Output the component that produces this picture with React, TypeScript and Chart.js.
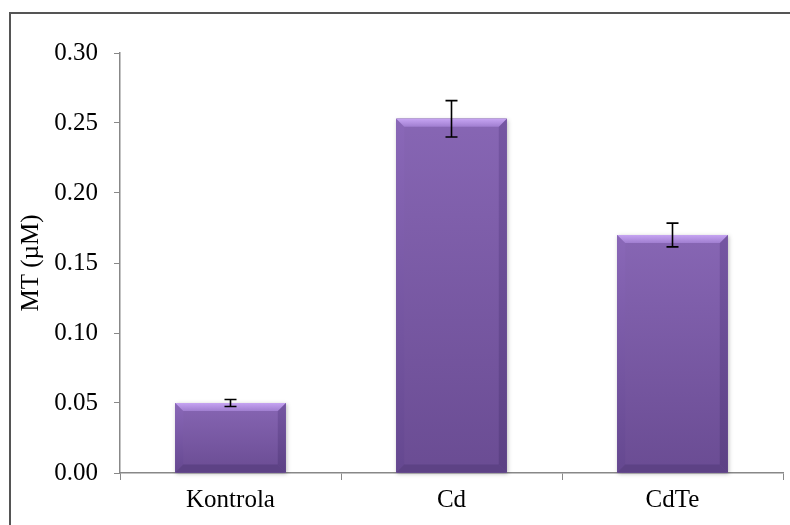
import React, { useEffect, useRef } from "react";
import { Chart, registerables } from "chart.js";

Chart.register(...registerables);

// MT concentration per treatment group
const categories = ["Kontrola", "Cd", "CdTe"];
const mtValues = [0.05, 0.253, 0.17];
const mtErrors = [0.0025, 0.013, 0.0085];
const yTickValues = [0, 0.05, 0.1, 0.15, 0.2, 0.25, 0.3];

const FONT = "'Liberation Serif', 'Times New Roman', serif";
const AXIS_GRAY = "#888888";

// Beveled, shaded face drawn on top of each bar element
const bevelPlugin = {
  id: "bevel",
  afterDatasetDraw(chart: any, args: any) {
    const meta = chart.getDatasetMeta(args.index);
    if (meta.type !== "bar") return;
    const ctx = chart.ctx as CanvasRenderingContext2D;
    meta.data.forEach((bar: any) => {
      const { x, y, base, width } = bar.getProps(["x", "y", "base", "width"], true);
      const l = x - width / 2;
      const r = x + width / 2;
      const t = Math.min(y, base);
      const b = Math.max(y, base);
      const s = Math.min(8, (b - t) / 2);
      ctx.save();

      // soft shadow
      ctx.shadowColor = "rgba(0,0,0,0.25)";
      ctx.shadowBlur = 4;
      ctx.shadowOffsetX = 1;
      ctx.shadowOffsetY = 1;
      ctx.fillStyle = "#7a5ba6";
      ctx.fillRect(l, t, r - l, b - t);
      ctx.shadowColor = "transparent";

      // body
      const body = ctx.createLinearGradient(0, t, 0, b);
      body.addColorStop(0, "#8766b4");
      body.addColorStop(1, "#6a4c93");
      ctx.fillStyle = body;
      ctx.fillRect(l, t, r - l, b - t);

      const poly = (pts: number[][], fill: any) => {
        ctx.beginPath();
        ctx.moveTo(pts[0][0], pts[0][1]);
        for (let i = 1; i < pts.length; i++) ctx.lineTo(pts[i][0], pts[i][1]);
        ctx.closePath();
        ctx.fillStyle = fill;
        ctx.fill();
      };

      // left and right edges
      const leftG = ctx.createLinearGradient(0, t, 0, b);
      leftG.addColorStop(0, "#8a68b8");
      leftG.addColorStop(1, "#654890");
      poly([[l, t], [l + s, t + s], [l + s, b - s], [l, b]], leftG);
      const rightG = ctx.createLinearGradient(0, t, 0, b);
      rightG.addColorStop(0, "#7556a2");
      rightG.addColorStop(1, "#5c4184");
      poly([[r, t], [r - s, t + s], [r - s, b - s], [r, b]], rightG);

      // bottom edge
      poly([[l, b], [l + s, b - s], [r - s, b - s], [r, b]], "#5d4285");

      // top highlight
      const topG = ctx.createLinearGradient(0, t, 0, t + s);
      topG.addColorStop(0, "#c6a4f2");
      topG.addColorStop(1, "#a07ed0");
      poly([[l, t], [r, t], [r - s, t + s], [l + s, t + s]], topG);

      ctx.restore();
    });
  },
};

// Error bars from the value/error arrays through the y scale
const errorBarPlugin = {
  id: "errorBars",
  afterDatasetsDraw(chart: any) {
    const meta = chart.getDatasetMeta(0);
    const yScale = chart.scales.y;
    const ctx = chart.ctx as CanvasRenderingContext2D;
    ctx.save();
    ctx.strokeStyle = "#000000";
    ctx.lineWidth = 1.6;
    meta.data.forEach((bar: any, i: number) => {
      const x = bar.x;
      const hi = yScale.getPixelForValue(mtValues[i] + mtErrors[i]);
      const lo = yScale.getPixelForValue(mtValues[i] - mtErrors[i]);
      const cap = 6;
      ctx.beginPath();
      ctx.moveTo(x, hi);
      ctx.lineTo(x, lo);
      ctx.moveTo(x - cap, hi);
      ctx.lineTo(x + cap, hi);
      ctx.moveTo(x - cap, lo);
      ctx.lineTo(x + cap, lo);
      ctx.stroke();
    });
    ctx.restore();
  },
};

export default function App() {
  const canvasRef = useRef<HTMLCanvasElement | null>(null);

  useEffect(() => {
    if (!canvasRef.current) return;
    const chart = new Chart(canvasRef.current, {
      type: "bar",
      data: {
        labels: categories,
        datasets: [
          {
            label: "MT (µM)",
            data: mtValues,
            backgroundColor: "#7a5ba6",
            borderWidth: 0,
            categoryPercentage: 1,
            barPercentage: 0.5,
          },
        ],
      },
      plugins: [bevelPlugin, errorBarPlugin],
      options: {
        responsive: false,
        animation: false,
        devicePixelRatio: 1,
        layout: { padding: { top: 53, right: 7, left: 0, bottom: 0 } },
        plugins: {
          legend: { display: false },
          tooltip: { enabled: false },
        },
        scales: {
          x: {
            offset: true,
            grid: {
              offset: true,
              drawOnChartArea: false,
              drawTicks: true,
              tickLength: 7,
              color: AXIS_GRAY,
            },
            border: { color: AXIS_GRAY, width: 1.5 },
            ticks: {
              color: "#000000",
              padding: 5,
              font: { family: FONT, size: 25 },
            },
            afterFit: (scale: any) => {
              scale.height = 52;
            },
          },
          y: {
            min: 0,
            max: 0.3,
            afterBuildTicks: (scale: any) => {
              scale.ticks = yTickValues.map((v) => ({ value: v }));
            },
            grid: {
              drawOnChartArea: false,
              drawTicks: true,
              tickLength: 6,
              color: AXIS_GRAY,
            },
            border: { color: AXIS_GRAY, width: 1.5 },
            ticks: {
              color: "#000000",
              padding: 16,
              font: { family: FONT, size: 25 },
              callback: (v: any) => Number(v).toFixed(2),
            },
            title: {
              display: true,
              text: "MT (µM)",
              color: "#000000",
              font: { family: FONT, size: 25 },
              padding: { top: 16, bottom: 0 },
            },
            afterFit: (scale: any) => {
              scale.width = 120;
            },
          },
        },
      },
    });
    return () => chart.destroy();
  }, []);

  return (
    <div
      style={{
        position: "fixed",
        left: 0,
        top: 0,
        width: 790,
        height: 525,
        overflow: "hidden",
        background: "#ffffff",
      }}
    >
      <canvas
        ref={canvasRef}
        width={790}
        height={525}
        style={{ position: "absolute", left: 0, top: 0, width: 790, height: 525 }}
      />
      <div
        style={{
          position: "absolute",
          left: 9,
          top: 12,
          width: 900,
          height: 700,
          border: "2px solid #555555",
          pointerEvents: "none",
        }}
      />
    </div>
  );
}
